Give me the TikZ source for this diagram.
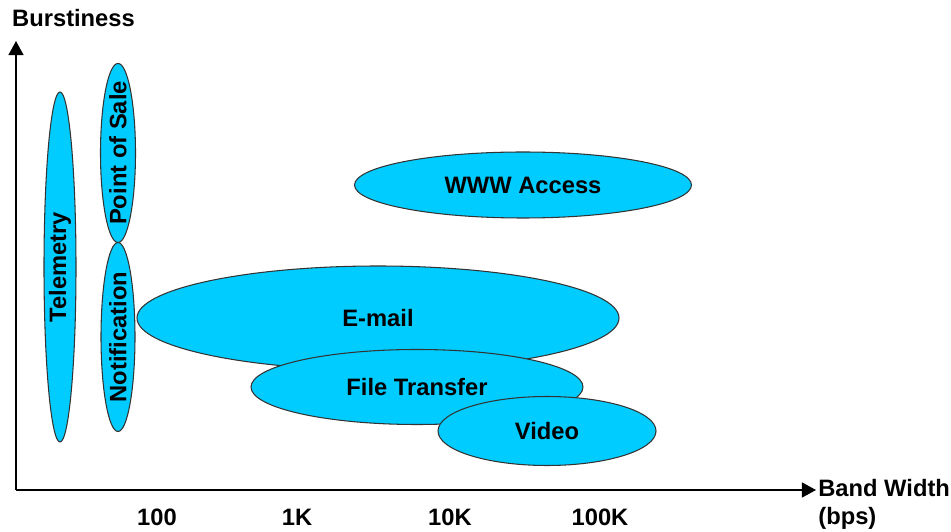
\documentclass[tikz,border=0pt]{standalone}
\usepackage{fontspec}
\setmainfont{Liberation Sans}
\usetikzlibrary{arrows.meta,shapes.geometric}
\definecolor{appfill}{HTML}{00CCFF}

\begin{document}
\begin{tikzpicture}[>={Triangle[length=8pt,width=8.5pt]},every node/.style={font=\fontsize{13.5}{16}\selectfont\bfseries},axis/.style={->,line width=0.9pt},app/.style={ellipse,draw=black!80,line width=0.6pt,fill=appfill,inner sep=0pt},upright/.style={app,rotate=90}]
\useasboundingbox (0,0) rectangle (19.02,10.62);
\coordinate (O) at (0.32,0.82);\coordinate (Y) at (0.32,9.8);\coordinate (X) at (16.32,0.82);
\draw[axis] (O)--(Y);\draw[axis] (O)--(X);
\node[anchor=west] (burst) at (0.12,10.26) {Burstiness};
\node[anchor=north west,align=left,inner sep=0pt] (bw) at (16.36,1.04) {Band Width\\(bps)};
\foreach \lbl/\x [count=\i] in {100/3.14,1K/5.94,10K/9.0,100K/12.0} \node (tick\i) at (\x,0.28) {\lbl};
% applications, later ones lie on top
\node[upright,minimum width=7cm,minimum height=0.64cm] (tele) at (1.2,5.28) {Telemetry};
\node[upright,inner xsep=-0.17cm,minimum width=3.48cm,minimum height=0.7cm] (pos) at (2.36,7.56) {Point of Sale};
\node[app,minimum width=6.74cm,minimum height=1.32cm] (www) at (10.46,6.92) {WWW Access};
\node[app,minimum width=9.64cm,minimum height=2.08cm] (mail) at (7.56,4.26) {E-mail};
\node[upright,minimum width=3.78cm,minimum height=0.68cm] (note) at (2.36,3.88) {Notification};
\node[app,minimum width=6.64cm,minimum height=1.5cm] (ftp) at (8.34,2.88) {File Transfer};
\node[app,minimum width=4.36cm,minimum height=1.38cm] (video) at (10.94,2.0) {Video};
\end{tikzpicture}
\end{document}
